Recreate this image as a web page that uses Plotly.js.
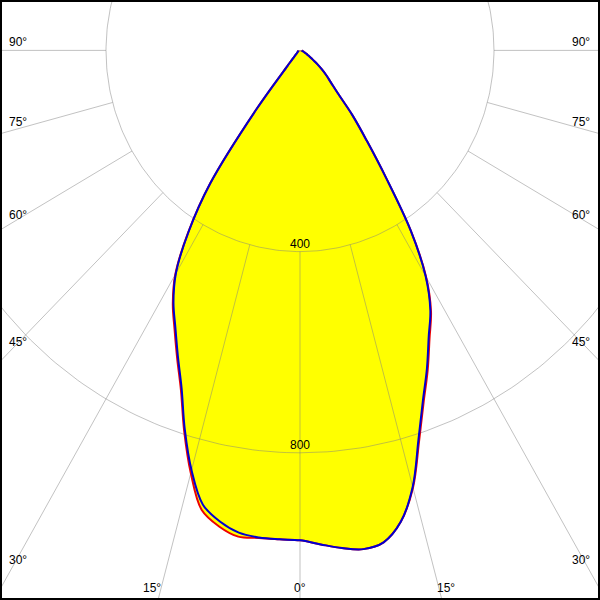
<!DOCTYPE html>
<html>
<head>
<meta charset="utf-8">
<script src="https://cdn.plot.ly/plotly-3.0.1.min.js"></script>
<style>html,body{margin:0;padding:0;background:#fff;overflow:hidden}#chart{width:600px;height:600px}</style>
</head>
<body>
<div id="chart"></div>
<script>
// Polar angles gamma (degrees from nadir)
const gamma = [0,2.5,5,7.5,10,12.5,15,17.5,20,22.5,25,27.5,30,32.5,35,37.5,40,42.5,45,47.5,50,52.5,55,57.5,60,62.5,65,67.5,70,72.5,75,77.5,80,82.5,85,87.5,90];
// Luminous intensity (cd) - red plane pair (C0 right / C180 left)
const redRight = [974,983,993,1000,993,960,900,816,745,688,632,585,520,426,310,226,168,115,90,74,59,45,32,25,19,15,12,10,8,7,6,5,4,4,3,3,3];
const redLeft  = [974,973,973,975,961,936,870,794,718,662,612,568,514,429,323,150,40,22,14,10,8,7,6,6,5,5,4,4,4,4,3,3,3,3,3,3,3];
// blue plane pair (C90 right / C270 left)
const blueRight = [974,983,993,1000,993,960,898,812,741,684,628,582,518,425,310,226,168,115,90,74,59,45,32,25,19,15,12,10,8,7,6,5,4,4,3,3,3];
const blueLeft  = [974,973,972,967,951,925,864,790,714,658,608,565,512,428,323,150,40,22,14,10,8,7,6,6,5,5,4,4,4,4,3,3,3,3,3,3,3];
// grid
const gridRadii = [400, 800];
const gridRadiusLabels = ['400', '800'];
const spokeAngles = [-90,-75,-60,-45,-30,-15,0,15,30,45,60,75,90];
const angleLabels = ['90°','75°','60°','45°','30°','15°','0°','15°','30°','45°','60°','75°','90°'];

const rad = d => d * Math.PI / 180;
function curve(right, left) {
  const x = [], y = [];
  for (let i = gamma.length - 1; i >= 0; i--) { x.push(right[i] * Math.sin(rad(gamma[i]))); y.push(right[i] * Math.cos(rad(gamma[i]))); }
  for (let i = 1; i < gamma.length; i++) { x.push(-left[i] * Math.sin(rad(gamma[i]))); y.push(left[i] * Math.cos(rad(gamma[i]))); }
  return {x, y};
}
const red = curve(redRight, redLeft);
const blue = curve(blueRight, blueLeft);

const gridColor = 'rgba(128,128,128,0.48)';
const traces = [];
traces.push({x: red.x, y: red.y, mode: 'lines', fill: 'toself', fillcolor: '#ffff00', line: {width: 0, color: 'rgba(0,0,0,0)', shape: 'spline', smoothing: 1}, hoverinfo: 'skip'});
gridRadii.forEach(r => {
  const x = [], y = [];
  for (let a = 0; a <= 360; a += 1) { x.push(r * Math.sin(rad(a))); y.push(r * Math.cos(rad(a))); }
  traces.push({x, y, mode: 'lines', line: {color: gridColor, width: 1}, hoverinfo: 'skip'});
});
spokeAngles.forEach(a => {
  const r0 = gridRadii[0], r1 = 3000;
  traces.push({x: [r0 * Math.sin(rad(a)), r1 * Math.sin(rad(a))], y: [r0 * Math.cos(rad(a)), r1 * Math.cos(rad(a))], mode: 'lines', line: {color: gridColor, width: 1}, hoverinfo: 'skip'});
});
traces.push({x: red.x, y: red.y, mode: 'lines', line: {color: '#ee0000', width: 2, shape: 'spline', smoothing: 1}, hoverinfo: 'skip'});
traces.push({x: blue.x, y: blue.y, mode: 'lines', line: {color: '#0000d0', width: 2, shape: 'spline', smoothing: 1}, hoverinfo: 'skip'});

// label positions in pixels (centre)
const labelPos = [[18,42],[18,122],[18,215],[18,342],[18,560],[152,588],[300,588],[446,588],[581,560],[581,342],[581,215],[581,122],[581,42]];
const font = {family: 'Liberation Sans, Arial, sans-serif', size: 12, color: '#000'};
const annotations = angleLabels.map((t, i) => ({
  text: t, xref: 'paper', yref: 'paper', x: labelPos[i][0] / 600, y: 1 - labelPos[i][1] / 600,
  xanchor: 'center', yanchor: 'middle', showarrow: false, font
}));
gridRadii.forEach((r, i) => annotations.push({text: gridRadiusLabels[i], x: 0, y: r, xref: 'x', yref: 'y', xanchor: 'center', yanchor: 'bottom', showarrow: false, font, borderpad: 0}));

const layout = {
  width: 600, height: 600, margin: {l: 0, r: 0, t: 0, b: 0},
  paper_bgcolor: '#fff', plot_bgcolor: '#fff', showlegend: false,
  xaxis: {range: [-618.6, 618.6], visible: false, fixedrange: true},
  yaxis: {range: [1092.6, -100.2], visible: false, fixedrange: true},
  annotations,
  shapes: [{type: 'rect', xref: 'paper', yref: 'paper', x0: 0, x1: 1, y0: 0, y1: 1, line: {color: '#000', width: 4}, layer: 'above'}]
};
Plotly.newPlot('chart', traces, layout, {staticPlot: true, displayModeBar: false});
</script>
</body>
</html>
